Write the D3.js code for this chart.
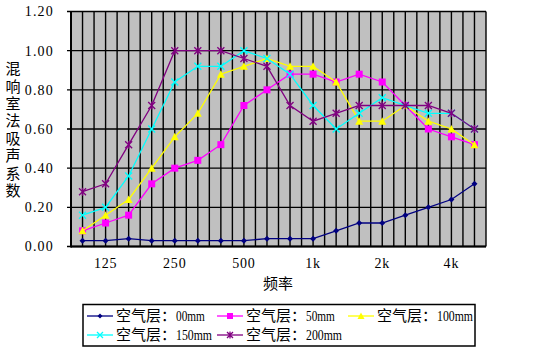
<!DOCTYPE html>
<html><head><meta charset="utf-8">
<script src="https://cdn.jsdelivr.net/npm/d3@7"></script>
<style>body{margin:0;background:#fff}svg{display:block}</style>
</head><body>
<svg id="c" width="550" height="352"></svg>
<script>
const categories = ["100","125","160","200","250","315","400","500","630","800","1k","1.25k","1.6k","2k","2.5k","3.15k","4k","5k"];
const tickLabels = ["125","250","500","1k","2k","4k"];
const yTicks = [0,0.2,0.4,0.6,0.8,1.0,1.2];
const seriesNames = ["空气层：00mm","空气层：50mm","空气层：100mm","空气层：150mm","空气层：200mm"];
const air00  = [0.03,0.03,0.04,0.03,0.03,0.03,0.03,0.03,0.04,0.04,0.04,0.08,0.12,0.12,0.16,0.20,0.24,0.32];
const air50  = [0.08,0.12,0.16,0.32,0.40,0.44,0.52,0.72,0.80,0.88,0.88,0.84,0.88,0.84,0.72,0.60,0.56,0.52];
const air100 = [0.08,0.16,0.24,0.40,0.56,0.68,0.88,0.92,0.96,0.92,0.92,0.84,0.64,0.64,0.72,0.64,0.60,0.52];
const air150 = [0.16,0.20,0.36,0.60,0.84,0.92,0.92,1.00,0.96,0.88,0.72,0.60,0.68,0.76,0.72,0.68,0.68,0.60];
const air200 = [0.28,0.32,0.52,0.72,1.00,1.00,1.00,0.96,0.92,0.72,0.64,0.68,0.72,0.72,0.72,0.72,0.68,0.60];

const seriesValues = [air00, air50, air100, air150, air200];
const colors = ["#000080","#FF00FF","#FFFF00","#00FFFF","#800080"];
const markers = ["diamond","square","triangle","cross","star"];

const svg = d3.select("#c");
const L = 71, R = 486, T = 11.5, B = 246.5;
const x = d3.scaleBand().domain(categories).range([L, R]).padding(0);
const y = d3.scaleLinear().domain([0, 1.2]).range([B, T]);
const bw = x.bandwidth();
const cx = c => x(c) + bw/2;

// plot background
svg.append("rect").attr("x", L).attr("y", T).attr("width", R-L).attr("height", B-T).attr("fill", "#C0C0C0");

// vertical gridlines: band edges and centers
const g = svg.append("g");
categories.forEach(c => {
  g.append("line").attr("x1", x(c)).attr("x2", x(c)).attr("y1", T).attr("y2", B).attr("stroke", "#000").attr("stroke-width", 1.4);
  g.append("line").attr("x1", cx(c)).attr("x2", cx(c)).attr("y1", T).attr("y2", B).attr("stroke", "#000").attr("stroke-width", 1.4);
});
g.append("line").attr("x1", R).attr("x2", R).attr("y1", T).attr("y2", B).attr("stroke", "#000").attr("stroke-width", 1.4);
// horizontal gridlines
yTicks.forEach(v => {
  g.append("line").attr("x1", L-4).attr("x2", R).attr("y1", y(v)).attr("y2", y(v)).attr("stroke", "#000").attr("stroke-width", 1.4);
});
// axis lines
svg.append("line").attr("x1", L).attr("x2", L).attr("y1", T).attr("y2", B+1).attr("stroke", "#000").attr("stroke-width", 2);
svg.append("line").attr("x1", L).attr("x2", R).attr("y1", B).attr("y2", B).attr("stroke", "#000").attr("stroke-width", 2);

// y tick labels
const numFont = "'Liberation Serif', 'DejaVu Serif', serif";
svg.append("g").selectAll("text").data(yTicks).join("text")
  .attr("x", 54).attr("y", d => y(d)).attr("dy", "0.35em")
  .attr("text-anchor", "end").attr("font-family", numFont).attr("font-size", 14)
  .attr("letter-spacing", "1.2px").attr("fill", "#000")
  .text(d => d3.format(".2f")(d));

// x tick labels
svg.append("g").selectAll("text").data(tickLabels).join("text")
  .attr("x", d => cx(d)).attr("y", 268)
  .attr("text-anchor", "middle").attr("font-family", numFont).attr("font-size", 14)
  .attr("letter-spacing", "0.8px").attr("fill", "#000")
  .text(d => d);

const cjk = "'Noto Sans CJK SC', sans-serif";
// x title
svg.append("text").attr("x", 278).attr("y", 289).attr("text-anchor", "middle")
  .attr("font-family", cjk).attr("font-size", 15).attr("fill", "#000").text("频率");
// y title vertical (single text, vertical writing mode)
svg.append("text").attr("x", 13).attr("y", 61)
  .style("writing-mode", "vertical-rl").style("text-orientation", "upright")
  .attr("letter-spacing", "2.4px")
  .attr("font-family", cjk).attr("font-size", 15).attr("fill", "#000").text("混响室法吸声系数");

function drawMarker(sel, type, color, size) {
  const s = size;
  if (type === "diamond") {
    sel.append("path").attr("d", `M0,${-s}L${s},0L0,${s}L${-s},0Z`).attr("fill", color);
  } else if (type === "square") {
    sel.append("rect").attr("x", -s).attr("y", -s).attr("width", 2*s).attr("height", 2*s).attr("fill", color);
  } else if (type === "triangle") {
    sel.append("path").attr("d", `M0,${-s-0.5}L${s+0.5},${s}L${-s-0.5},${s}Z`).attr("fill", color);
  } else if (type === "cross") {
    sel.append("path").attr("d", `M${-s},${-s}L${s},${s}M${-s},${s}L${s},${-s}`).attr("stroke", color).attr("stroke-width", 1.3);
  } else if (type === "star") {
    sel.append("path").attr("d", `M${-s},${-s}L${s},${s}M${-s},${s}L${s},${-s}M0,${-s-0.5}L0,${s+0.5}`).attr("stroke", color).attr("stroke-width", 1.3);
  }
}

const line = d3.line().x((d,i) => cx(categories[i])).y(d => y(d));
const sizes = [3, 3.5, 3.5, 3.5, 3.5];
seriesValues.forEach((vals, si) => {
  svg.append("path").datum(vals).attr("d", line).attr("fill", "none")
    .attr("stroke", colors[si]).attr("stroke-width", 1.3);
  vals.forEach((v, i) => {
    const m = svg.append("g").attr("transform", `translate(${cx(categories[i])},${y(v)})`);
    drawMarker(m, markers[si], colors[si], sizes[si]);
  });
});

// legend
const lg = svg.append("g");
lg.append("rect").attr("x", 83).attr("y", 304.5).attr("width", 392).attr("height", 41.5)
  .attr("fill", "#fff").attr("stroke", "#000").attr("stroke-width", 1.5);
const pos = [[87,316],[217,316],[348,316],[87,335],[217,335]];
seriesNames.forEach((name, i) => {
  const [lx, ly] = pos[i];
  lg.append("line").attr("x1", lx).attr("x2", lx+26).attr("y1", ly).attr("y2", ly)
    .attr("stroke", colors[i]).attr("stroke-width", 1.3);
  const m = lg.append("g").attr("transform", `translate(${lx+13},${ly})`);
  drawMarker(m, markers[i], colors[i], sizes[i]-0.5);
  const parts = name.split("：");
  lg.append("text").attr("x", lx+29).attr("y", ly).attr("dy", "0.36em")
    .attr("font-size", 15).attr("fill", "#000").attr("font-family", cjk)
    .text(parts[0] + "：");
  lg.append("text").attr("x", lx+89).attr("y", ly).attr("dy", "0.36em")
    .attr("font-size", 14).attr("fill", "#000").attr("font-family", numFont)
    .attr("textLength", parts[1].length * 7.2).attr("lengthAdjust", "spacingAndGlyphs")
    .text(parts[1]);
});
</script>
</body></html>
